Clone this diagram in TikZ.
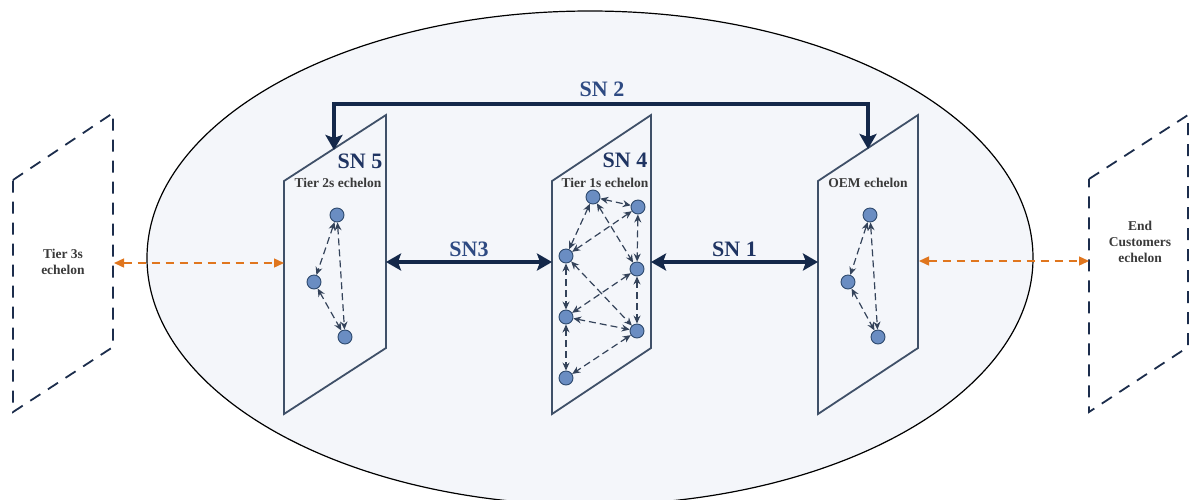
\documentclass[tikz,border=0pt]{standalone}
\usepackage{fontspec}
\setmainfont{Liberation Serif}
\usetikzlibrary{arrows.meta}
\definecolor{ellfill}{HTML}{F4F6FA}
\definecolor{panelc}{HTML}{3F5068}
\definecolor{dashc}{HTML}{1C2D4C}
\definecolor{dotfill}{HTML}{6A8DC2}
\definecolor{dotline}{HTML}{2E4A6E}
\definecolor{inc}{HTML}{34435A}
\definecolor{orc}{HTML}{E0761E}
\definecolor{snc}{HTML}{14284A}
\definecolor{labdark}{HTML}{1F3462}
\definecolor{lablight}{HTML}{2E4A82}
\definecolor{tierc}{HTML}{3A3A3A}
\tikzset{
  panel/.style={draw=panelc, line width=1.8pt, line join=miter},
  dpanel/.style={draw=dashc, line width=1.8pt, dash pattern=on 12pt off 9pt},
  dot/.style={circle, draw=dotline, fill=dotfill, line width=0.9pt, minimum size=14pt, inner sep=0pt},
  inarrow/.style={draw=inc, line width=1.2pt, dash pattern=on 7pt off 4pt, {Stealth[length=8pt,width=7pt]}-{Stealth[length=8pt,width=7pt]}},
  orarrow/.style={draw=orc, line width=1.4pt, dash pattern=on 8pt off 6pt, {Triangle[length=10pt,width=9pt]}-{Triangle[length=10pt,width=9pt]}},
  snarrow/.style={draw=snc, line width=3.2pt, line join=miter, {Stealth[length=15pt,width=17pt,inset=3pt]}-{Stealth[length=15pt,width=17pt,inset=3pt]}},
  snlab/.style={font=\bfseries\fontsize{22}{24}\selectfont, inner sep=0pt},
  tierlab/.style={font=\bfseries\fontsize{13.5}{16}\selectfont, text=tierc, inner sep=0pt, align=center},
}
\begin{document}
\begin{tikzpicture}[x=1pt,y=-1pt]
\useasboundingbox (0,0) rectangle (1192,499);
\begin{scope}
\clip (0,0) rectangle (1192,499);
\draw[fill=ellfill, draw=black, line width=1.2pt] (590,258) ellipse [x radius=443, y radius=247];
\end{scope}
% dashed outer panels
\draw[dpanel] (13,180) -- (113,113) -- (113,347) -- (13,412) -- cycle;
\draw[dpanel] (1089,179) -- (1188,115) -- (1188,347) -- (1089,412) -- cycle;
% solid panels
\draw[panel] (284,181) -- (386,115) -- (386,348) -- (284,414) -- cycle;
\draw[panel] (552,181) -- (651,115) -- (651,348) -- (552,414) -- cycle;
\draw[panel] (818,181) -- (918,115) -- (918,348) -- (818,414) -- cycle;
% attachment coordinates
\coordinate (d3R) at (114,263);
\coordinate (p5L) at (284,263);
\coordinate (p5R) at (386,262);
\coordinate (p4L) at (552,262);
\coordinate (p4R) at (651,262);
\coordinate (p1L) at (818,262);
\coordinate (p1R) at (919,261);
\coordinate (deL) at (1089,261);
\coordinate (t5) at (334,150);
\coordinate (t1) at (868,149);
% labels
\node[tierlab] (l3) at (63,262) {Tier 3s\\echelon};
\node[tierlab] (le) at (1140,242) {End\\Customers\\echelon};
\node[snlab, text=labdark] (sn5) at (360,161) {SN 5};
\node[tierlab] (t2s) at (338,183) {Tier 2s echelon};
\node[snlab, text=labdark] (sn4) at (625,160) {SN 4};
\node[tierlab] (t1s) at (605,183) {Tier 1s echelon};
\node[tierlab] (oem) at (868,183) {OEM echelon};
% SN arrows
\draw[snarrow] (p5R) -- node[snlab, text=lablight, above=4pt] (sn3) {SN3} (p4L);
\draw[snarrow] (p4R) -- node[snlab, text=labdark, above=4pt] (sn1) {SN 1} (p1L);
\draw[snarrow] (t5) -- (334,104) -- (868,104) -- (t1);
\node[snlab, text=lablight] (sn2) at (602,89) {SN 2};
% orange arrows
\draw[orarrow] (d3R) -- (p5L);
\draw[orarrow] (p1R) -- (deL);
% tier 2s nodes
\node[dot] (a1) at (337,215) {};
\node[dot] (a2) at (314,282) {};
\node[dot] (a3) at (345,337) {};
\draw[inarrow] (a1) -- (a2);
\draw[inarrow] (a1) -- (a3);
\draw[inarrow] (a2) -- (a3);
% tier 1s nodes
\node[dot] (b1) at (593,197) {};
\node[dot] (b2) at (638,207) {};
\node[dot] (b3) at (566,256) {};
\node[dot] (b4) at (637,269) {};
\node[dot] (b5) at (566,317) {};
\node[dot] (b6) at (637,331) {};
\node[dot] (b7) at (566,378) {};
\draw[inarrow] (b1) -- (b2);
\draw[inarrow] (b1) -- (b3);
\draw[inarrow] (b1) -- (b4);
\draw[inarrow] (b2) -- (b3);
\draw[inarrow] (b2) -- (b4);
\draw[inarrow] (b3) -- (b5);
\draw[inarrow] (b3) -- (b6);
\draw[inarrow] (b4) -- (b5);
\draw[inarrow] (b4) -- (b6);
\draw[inarrow] (b5) -- (b6);
\draw[inarrow] (b5) -- (b7);
\draw[inarrow] (b6) -- (b7);
% OEM nodes
\node[dot] (c1) at (870,215) {};
\node[dot] (c2) at (848,282) {};
\node[dot] (c3) at (878,337) {};
\draw[inarrow] (c1) -- (c2);
\draw[inarrow] (c1) -- (c3);
\draw[inarrow] (c2) -- (c3);
\end{tikzpicture}
\end{document}
